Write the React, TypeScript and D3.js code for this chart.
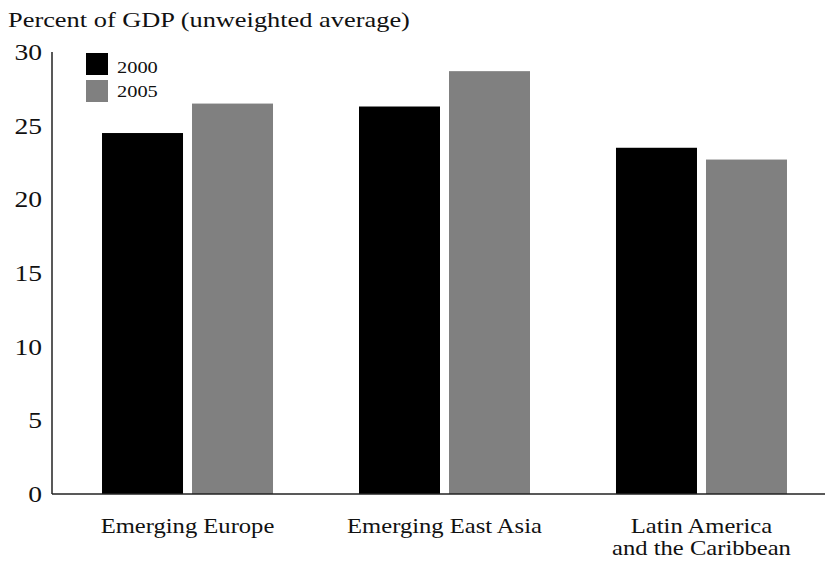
import React from "react";
import * as d3 from "d3";

const categories = ["Emerging Europe", "Emerging East Asia", "Latin America\nand the Caribbean"];
const seriesNames = ["2000", "2005"];
const values2000 = [24.5, 26.3, 23.5];
const values2005 = [26.5, 28.7, 22.7];
const yTicks = [0, 5, 10, 15, 20, 25, 30];
const title = "Percent of GDP (unweighted average)";
const colors = ["#000000", "#808080"];

const W = 825;
const H = 563;
const FONT = "Liberation Serif, DejaVu Serif, serif";
const SX = 1.2;

function SText({ x, y, size, anchor = "start", children }: any) {
  return (
    <text
      transform={`translate(${x},${y}) scale(${SX},1)`}
      style={{ fontFamily: FONT, fontSize: size }}
      textAnchor={anchor}
      fill="#111"
    >
      {children}
    </text>
  );
}

export default function App() {
  const left = 52;
  const baseY = 494;
  const topY = 52;
  const y = d3.scaleLinear().domain([0, 30]).range([baseY, topY]);
  const x0 = d3
    .scaleBand<string>()
    .domain(categories)
    .range([left, 837])
    .paddingInner(0.3346)
    .paddingOuter(0.1946);
  const x1 = d3
    .scaleBand<string>()
    .domain(seriesNames)
    .range([0, x0.bandwidth()])
    .paddingInner(0.1)
    .paddingOuter(0);
  const series = [values2000, values2005];

  return (
    <svg
      width={W}
      height={H}
      style={{ position: "absolute", left: 0, top: 0, background: "#fff" }}
    >
      <SText x={8} y={27} size={22}>{title}</SText>

      {categories.map((c, ci) =>
        seriesNames.map((s, si) => {
          const v = series[si][ci];
          const bx = (x0(c) as number) + (x1(s) as number);
          return (
            <rect
              key={c + s}
              x={bx}
              y={y(v)}
              width={x1.bandwidth()}
              height={baseY - y(v)}
              fill={colors[si]}
            />
          );
        })
      )}

      <line x1={left} x2={W} y1={baseY} y2={baseY} stroke="#222" strokeWidth={1.5} />
      <line x1={left} x2={left} y1={topY} y2={baseY} stroke="#222" strokeWidth={1.5} />

      {yTicks.map((t) => (
        <SText key={t} x={42} y={y(t) + 8} size={23} anchor="end">
          {t}
        </SText>
      ))}

      {categories.map((c) => {
        const cx = (x0(c) as number) + x0.bandwidth() / 2;
        const lines = c.split("\n");
        return lines.map((ln, li) => (
          <SText key={c + li} x={cx} y={533 + li * 22} size={20.5} anchor="middle">
            {ln}
          </SText>
        ));
      })}

      {seriesNames.map((s, si) => (
        <g key={s}>
          <rect x={86} y={53 + si * 27} width={22} height={22} fill={colors[si]} />
          <SText x={117} y={73 + si * 24} size={17}>{s}</SText>
        </g>
      ))}
    </svg>
  );
}
